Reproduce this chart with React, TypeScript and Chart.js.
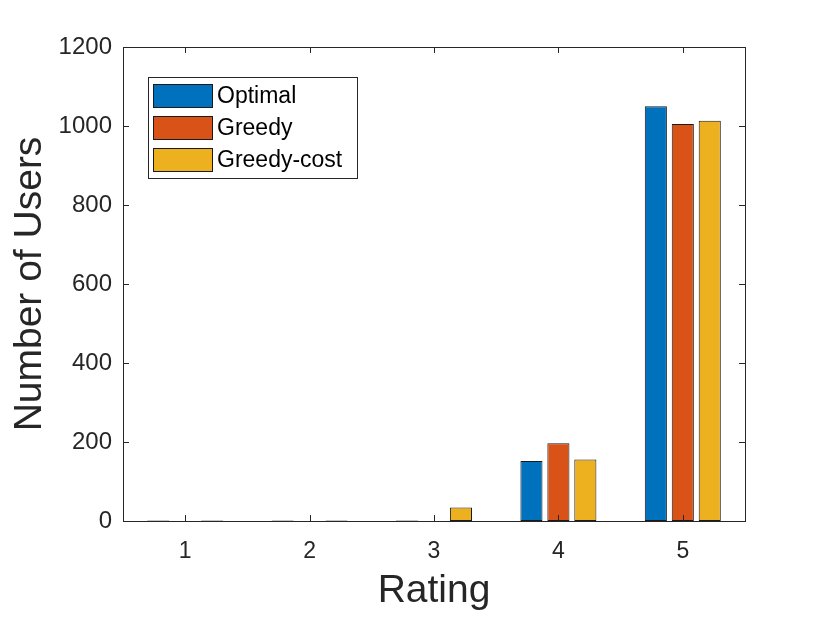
import React, { useEffect, useRef } from 'react';
import { Chart, registerables } from 'chart.js';

Chart.register(...registerables);

const ratings = ['1', '2', '3', '4', '5'];
const optimal = [1, 1, 1, 152, 1050];
const greedy = [0, 0, 0, 197, 1005];
const greedyCost = [1, 1, 34, 156, 1013];
const seriesNames = ['Optimal', 'Greedy', 'Greedy-cost'];
const yTicks = [0, 200, 400, 600, 800, 1000, 1200];

const FONT = '"Liberation Sans", Arial, sans-serif';
const AXIS = '#262626';

// MATLAB-style box with inward ticks plus legend drawn inside the plot
const boxPlugin = {
  id: 'matlabBox',
  afterDraw(chart: any) {
    const { ctx, chartArea: a, scales } = chart;
    const tick = 6;
    ctx.save();
    ctx.strokeStyle = AXIS;
    ctx.lineWidth = 1;
    ctx.strokeRect(a.left + 0.5, a.top + 0.5, a.right - a.left, a.bottom - a.top);
    ctx.beginPath();
    yTicks.forEach((v) => {
      const y = Math.round(scales.y.getPixelForValue(v)) + 0.5;
      ctx.moveTo(a.left, y); ctx.lineTo(a.left + tick, y);
      ctx.moveTo(a.right, y); ctx.lineTo(a.right - tick, y);
    });
    ratings.forEach((_, i) => {
      const x = Math.round(scales.x.getPixelForTick(i)) + 0.5;
      ctx.moveTo(x, a.bottom); ctx.lineTo(x, a.bottom - tick);
      ctx.moveTo(x, a.top); ctx.lineTo(x, a.top + tick);
    });
    ctx.stroke();

    // legend
    const lx = a.left + 25;
    const ly = a.top + 30;
    const lw = 209;
    const lh = 101;
    ctx.fillStyle = '#fff';
    ctx.fillRect(lx, ly, lw, lh);
    ctx.strokeStyle = '#262626';
    ctx.strokeRect(lx + 0.5, ly + 0.5, lw, lh);
    ctx.font = `23px ${FONT}`;
    ctx.textBaseline = 'middle';
    chart.data.datasets.forEach((ds: any, i: number) => {
      const sy = ly + 7 + i * 32;
      ctx.fillStyle = ds.backgroundColor;
      ctx.fillRect(lx + 5, sy, 59, 23);
      ctx.strokeStyle = '#1a1a1a';
      ctx.strokeRect(lx + 5.5, sy + 0.5, 59, 23);
      ctx.fillStyle = '#000';
      ctx.fillText(seriesNames[i], lx + 69, sy + 13);
    });
    ctx.restore();
  },
};

const App: React.FC = () => {
  const canvasRef = useRef<HTMLCanvasElement | null>(null);
  const chartRef = useRef<Chart | null>(null);

  useEffect(() => {
    document.body.style.margin = '0';
    if (!canvasRef.current) return;
    const ctx = canvasRef.current.getContext('2d');
    if (chartRef.current) chartRef.current.destroy();

    const colors = ['#0072BD', '#D95319', '#EDB120'];
    const values = [optimal, greedy, greedyCost];

    chartRef.current = new Chart(ctx!, {
      type: 'bar',
      data: {
        labels: ratings,
        datasets: values.map((d, i) => ({
          label: seriesNames[i],
          data: d,
          backgroundColor: colors[i],
          borderColor: '#1a1a1a',
          borderWidth: 1,
          borderSkipped: false,
          categoryPercentage: 0.65,
          barPercentage: 0.82,
        })),
      },
      options: {
        responsive: false,
        animation: false,
        layout: { padding: { top: 47, right: 77, left: 0, bottom: 0 } },
        plugins: { legend: { display: false }, tooltip: { enabled: false } },
        scales: {
          x: {
            type: 'category',
            offset: true,
            grid: { display: false, drawTicks: false },
            border: { display: false },
            ticks: { color: AXIS, font: { family: FONT, size: 23 }, padding: 17 },
            title: {
              display: true,
              text: 'Rating',
              color: AXIS,
              font: { family: FONT, size: 39 },
              padding: { top: 0, bottom: 2 },
            },
            afterFit: (s: any) => { s.height = 96; },
          },
          y: {
            min: 0,
            max: 1200,
            grid: { display: false, drawTicks: false },
            border: { display: false },
            afterBuildTicks: (s: any) => { s.ticks = yTicks.map((v) => ({ value: v })); },
            ticks: {
              color: AXIS,
              font: { family: FONT, size: 24 },
              padding: 11,
              callback: (v: any) => String(v),
            },
            title: {
              display: true,
              text: 'Number of Users',
              color: AXIS,
              font: { family: FONT, size: 39 },
              padding: { top: 7, bottom: 0 },
            },
            afterFit: (s: any) => { s.width = 123; },
          },
        },
      },
      plugins: [boxPlugin],
    });

    return () => {
      if (chartRef.current) {
        chartRef.current.destroy();
        chartRef.current = null;
      }
    };
  }, []);

  return (
    <div style={{ width: 822, height: 617, background: '#fff' }}>
      <canvas ref={canvasRef} width={822} height={617} />
    </div>
  );
};

export default App;
